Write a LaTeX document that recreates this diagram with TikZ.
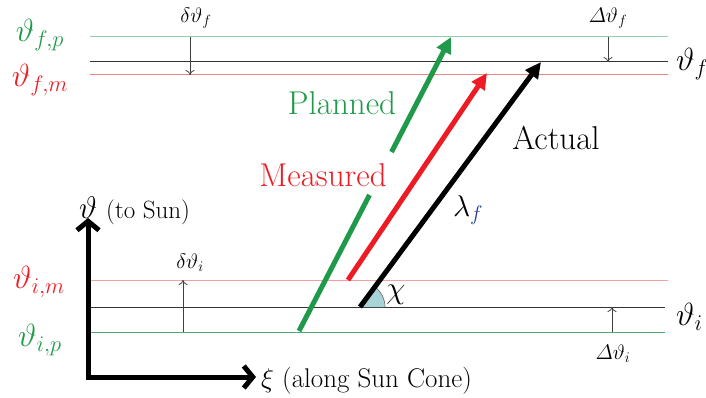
\RequirePackage{fix-cm}
\documentclass[tikz,border=0pt]{standalone}
\usepackage{amsmath}
\usepackage{graphicx}
\usetikzlibrary{arrows.meta}
\definecolor{gr}{RGB}{31,154,74}
\definecolor{rd}{RGB}{237,28,36}
\definecolor{glt}{RGB}{150,205,175}
\definecolor{glb}{RGB}{80,170,110}
\definecolor{rlt}{RGB}{240,130,130}
\definecolor{rlb}{RGB}{245,160,160}
\definecolor{wedge}{RGB}{168,212,216}
\definecolor{lblue}{RGB}{30,60,140}
\tikzset{
  level/.style={line width=1pt},
  bigarrow/.style={line width=5pt,-{Triangle[length=16pt,width=15pt]}},
  axisarrow/.style={line width=5pt,-{Straight Barb[length=9pt,width=22pt]}},
  smallarrow/.style={line width=0.8pt,draw=black!75,-{To[length=5pt,width=9pt]}},
  big/.style={font=\fontsize{33}{38}\selectfont,inner sep=0pt},
  side/.style={font=\fontsize{32}{36}\selectfont,inner sep=0pt},
  small/.style={font=\fontsize{21}{25}\selectfont,inner sep=0pt},
}
\begin{document}
\begin{tikzpicture}[x=1pt,y=-1pt]
\useasboundingbox (0,0) rectangle (706,398);
% level lines
\coordinate (fpL) at (90,37);  \coordinate (fpR) at (668,37);
\coordinate (fL) at (90,62);   \coordinate (fR) at (668,62);
\coordinate (fmL) at (90,75);  \coordinate (fmR) at (668,75);
\coordinate (imL) at (90,280); \coordinate (imR) at (668,280);
\coordinate (iL) at (90,307);  \coordinate (iR) at (665,307);
\coordinate (ipL) at (90,332); \coordinate (ipR) at (665,332);
\draw[level,glt] (fpL) -- (fpR);
\draw[level,black!80] (fL) -- (fR);
\draw[level,rlt] (fmL) -- (fmR);
\draw[level,rlb] (imL) -- (imR);
\draw[level,black!80] (iL) -- (iR);
\draw[level,glb] (ipL) -- (ipR);
% small delta arrows
\coordinate (d1a) at (190,37);  \coordinate (d1b) at (190,75);
\coordinate (d2a) at (608,37);  \coordinate (d2b) at (608,62);
\coordinate (d3a) at (183,332); \coordinate (d3b) at (183,280);
\coordinate (d4a) at (612,332); \coordinate (d4b) at (612,307);
\draw[smallarrow] (d1a) -- (d1b);
\draw[smallarrow] (d2a) -- (d2b);
\draw[smallarrow] (d3a) -- (d3b);
\draw[smallarrow] (d4a) -- (d4b);
% angle wedge
\coordinate (b0) at (360,307); \coordinate (b1) at (541,62);
\fill[wedge] (b0) -- ++(25,0) arc[start angle=0,end angle=-53.5,radius=25] -- cycle;
\draw[line width=0.6pt,black!60] (b0) ++(25,0) arc[start angle=0,end angle=-53.5,radius=25];
% big arrows
\coordinate (g0) at (299,331); \coordinate (g1) at (369.5,195);
\coordinate (g2) at (391.5,152); \coordinate (g3) at (451,37);
\coordinate (r0) at (348,280); \coordinate (r1) at (487,73);
\draw[line width=5pt,gr] (g0) -- (g1);
\draw[bigarrow,gr] (g2) -- (g3);
\draw[bigarrow,rd] (r0) -- (r1);
\draw[bigarrow,black] (b0) -- (b1);
% axes
\coordinate (o) at (88,377);
\coordinate (ytop) at (88,218);
\coordinate (xend) at (256,377);
\draw[axisarrow] (o) -- (ytop);
\draw[axisarrow] ([xshift=-2.5pt]o) -- (xend);
% labels
\node[big,gr] (lplan) at (342,103) {Planned};
\node[big,rd] (lmeas) at (323,175) {Measured};
\node[big] (lact) at (556,138) {Actual};
\node[font=\fontsize{30}{34}\selectfont,inner sep=0pt] (llam) at (468,210) {$\lambda_{\color{lblue}f}$};
\node[font=\fontsize{24}{28}\selectfont,inner sep=0pt] (lchi) at (396,295) {\scalebox{1.3}{$\chi$}};
\node[small] (ldf) at (196,18) {$\delta\vartheta_f$};
\node[small] (lDf) at (608,18) {$\varDelta\vartheta_f$};
\node[small] (ldi) at (190,263) {$\delta\vartheta_i$};
\node[small] (lDi) at (613,354) {$\varDelta\vartheta_i$};
\node[side,anchor=west] (lthf) at (676,64) {$\vartheta_f$};
\node[side,anchor=west] (lthi) at (676,317) {$\vartheta_i$};
\node[side,gr] (lfp) at (40,35) {$\vartheta_{f,p}$};
\node[side,rd] (lfm) at (40,80) {$\vartheta_{f,m}$};
\node[side,rd] (lim) at (39,282) {$\vartheta_{i,m}$};
\node[side,gr] (lip) at (40,340) {$\vartheta_{i,p}$};
\node[font=\fontsize{24}{28}\selectfont,inner sep=0pt,anchor=west] (lys) at (79,211) {\scalebox{1.3}{$\vartheta$}\hspace{9pt}{\fontsize{25}{29}\selectfont(to Sun)}};
\node[font=\fontsize{27}{31}\selectfont,inner sep=0pt,anchor=west] (lxs) at (261,381) {$\xi$ (along Sun Cone)};
\end{tikzpicture}
\end{document}
